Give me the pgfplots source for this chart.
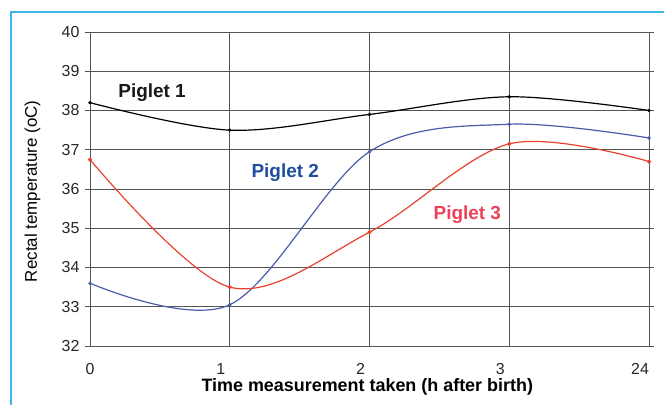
\documentclass[border=0pt]{standalone}
\usepackage{pgfplots}
\pgfplotsset{compat=1.18}
\usepackage{fontspec}
\setmainfont{Liberation Sans}
\definecolor{pblue}{HTML}{4A5BA8}
\definecolor{pred}{HTML}{E8412E}
\definecolor{tblue}{HTML}{1F4E9C}
\definecolor{tred}{HTML}{EC4159}
\definecolor{frame}{HTML}{3FB4E6}
\definecolor{gridc}{HTML}{555555}
\begin{document}
\begin{tikzpicture}
\useasboundingbox (-90bp,-59bp) rectangle (574bp,346bp);
\draw[frame,line width=1.2bp] (-79bp,-59bp) -- (-79bp,334bp) -- (574bp,334bp);
\begin{axis}[
  at={(0,0)}, anchor=south west,
  scale only axis, width=559bp, height=314bp,
  xmin=0, xmax=4, ymin=32, ymax=40,
  xtick={0,1,2,3,4}, xticklabels={\hspace*{18bp}0,1,2,3,24},
  ytick={32,33,...,40},
  grid=major,
  major grid style={gridc, line width=0.7bp},
  axis line style={gridc, line width=0.8bp},
  tick style={gridc, line width=0.7bp},
  tick align=outside, major tick length=5bp,
  xtick style={draw=none},
  /pgf/number format/assume math mode=true,
  tick label style={font=\fontsize{16}{16}\selectfont, text=black!85},
  xticklabel style={xshift=-9bp, yshift=-9bp},
  yticklabel style={xshift=-2bp},
  xlabel={\textbf{Time measurement taken (h after birth)}},
  xlabel style={font=\fontsize{18}{18}\selectfont, at={(axis description cs:0.496,0)}, anchor=center, yshift=-41bp},
  ylabel={Rectal temperature (oC)},
  ylabel style={font=\fontsize{17}{17}\selectfont, at={(axis description cs:-0.103,0.493)}, anchor=center},
  clip=false,
]
\addplot[black, line width=1.2bp, smooth, tension=0.55, mark=*, mark size=1bp] coordinates {(0,38.2) (1,37.5) (2,37.9) (3,38.35) (4,38.0)};
\addplot[pblue, line width=1.2bp, smooth, tension=0.55, mark=*, mark size=1bp] coordinates {(0,33.6) (1,33.05) (2,36.95) (3,37.65) (4,37.3)};
\addplot[pred, line width=1.2bp, smooth, tension=0.55, mark=*, mark size=1.4bp] coordinates {(0,36.75) (1,33.5) (2,34.9) (3,37.15) (4,36.7)};
\node[font=\bfseries\fontsize{19}{19}\selectfont, text=black!90] at (axis cs:0.444,38.45) {Piglet 1};
\node[font=\bfseries\fontsize{19}{19}\selectfont, text=tblue] at (axis cs:1.397,36.41) {Piglet 2};
\node[font=\bfseries\fontsize{19}{19}\selectfont, text=tred] at (axis cs:2.70,35.34) {Piglet 3};
\end{axis}
\end{tikzpicture}
\end{document}
